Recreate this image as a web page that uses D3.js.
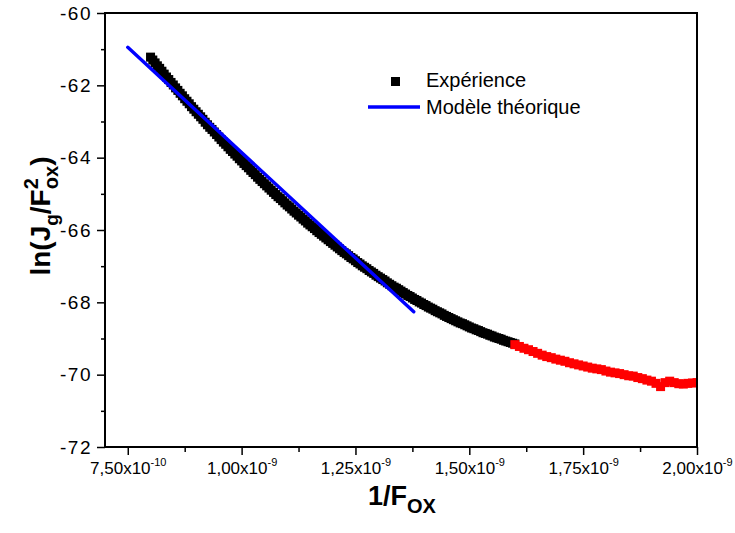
<!DOCTYPE html>
<html><head><meta charset="utf-8">
<script src="https://cdn.jsdelivr.net/npm/d3@7"></script>
<style>
body{margin:0;background:#fff}
svg{display:block}
text{font-family:"Liberation Sans",Arial,Helvetica,sans-serif;fill:#000}
</style>
</head><body>
<svg id="chart" width="735" height="533"></svg>
<script>
// ---------- data ----------
const xUnit = 1e-10;                      // x values below are in units of 1e-10
const xTicks = [7.5e-10, 1.0e-9, 1.25e-9, 1.5e-9, 1.75e-9, 2.0e-9];
const xTickMantissa = ["7,50", "1,00", "1,25", "1,50", "1,75", "2,00"];
const xTickExponent = ["-10", "-9", "-9", "-9", "-9", "-9"];
const xMinorTicks = [8.75e-10, 1.125e-9, 1.375e-9, 1.625e-9, 1.875e-9];
const yTicks = [-60, -62, -64, -66, -68, -70, -72];
const yMinorTicks = [-61, -63, -65, -67, -69, -71];

// experimental points (black part)
const expBlackX = [
  8.00,8.05,8.10,8.15,8.20,8.25,8.30,8.35,8.40,8.45,8.50,8.55,8.60,8.65,8.70,8.75,8.80,8.85,8.90,8.95,
  9.00,9.05,9.10,9.15,9.20,9.25,9.30,9.35,9.40,9.45,9.50,9.55,9.60,9.65,9.70,9.75,9.80,9.85,9.90,9.95,
  10.00,10.05,10.10,10.15,10.20,10.25,10.30,10.35,10.40,10.45,10.50,10.55,10.60,10.65,10.70,10.75,10.80,10.85,10.90,10.95,
  11.00,11.05,11.10,11.15,11.20,11.25,11.30,11.35,11.40,11.45,11.50,11.55,11.60,11.65,11.70,11.75,11.80,11.85,11.90,11.95,
  12.00,12.05,12.10,12.15,12.20,12.25,12.30,12.35,12.40,12.45,12.50,12.55,12.60,12.65,12.70,12.75,12.80,12.85,12.90,12.95,
  13.00,13.05,13.10,13.15,13.20,13.25,13.30,13.35,13.40,13.45,13.50,13.55,13.60,13.65,13.70,13.75,13.80,13.85,13.90,13.95,
  14.00,14.05,14.10,14.15,14.20,14.25,14.30,14.35,14.40,14.45,14.50,14.55,14.60,14.65,14.70,14.75,14.80,14.85,14.90,14.95,
  15.00,15.05,15.10,15.15,15.20,15.25,15.30,15.35,15.40,15.45,15.50,15.55,15.60,15.65,15.70,15.75,15.80,15.85,15.90,15.95,16.00];
const expBlackY = [
  -61.22,-61.30,-61.38,-61.46,-61.53,-61.61,-61.69,-61.77,-61.84,-61.92,-61.99,-62.07,-62.14,-62.22,-62.29,-62.37,-62.44,-62.51,-62.59,-62.66,
  -62.73,-62.80,-62.87,-62.94,-63.02,-63.09,-63.16,-63.22,-63.29,-63.36,-63.43,-63.50,-63.57,-63.63,-63.70,-63.77,-63.83,-63.90,-63.96,-64.03,
  -64.09,-64.16,-64.22,-64.28,-64.35,-64.41,-64.47,-64.54,-64.60,-64.66,-64.72,-64.78,-64.84,-64.90,-64.96,-65.02,-65.08,-65.13,-65.19,-65.25,
  -65.31,-65.36,-65.42,-65.48,-65.53,-65.59,-65.64,-65.70,-65.75,-65.81,-65.86,-65.91,-65.96,-66.02,-66.07,-66.12,-66.17,-66.22,-66.27,-66.32,
  -66.37,-66.42,-66.47,-66.52,-66.57,-66.62,-66.66,-66.71,-66.76,-66.80,-66.85,-66.90,-66.94,-66.99,-67.03,-67.07,-67.12,-67.16,-67.20,-67.25,
  -67.29,-67.33,-67.37,-67.41,-67.46,-67.50,-67.54,-67.58,-67.61,-67.65,-67.69,-67.73,-67.77,-67.81,-67.84,-67.88,-67.92,-67.95,-67.99,-68.02,
  -68.06,-68.09,-68.13,-68.16,-68.19,-68.23,-68.26,-68.29,-68.32,-68.36,-68.39,-68.42,-68.45,-68.48,-68.51,-68.54,-68.57,-68.59,-68.62,-68.65,
  -68.68,-68.71,-68.73,-68.76,-68.78,-68.81,-68.84,-68.86,-68.88,-68.91,-68.93,-68.96,-68.98,-69.00,-69.02,-69.05,-69.07,-69.09,-69.11,-69.13,-69.15];
// experimental points (red part)
const expRedX = [16.0,16.1,16.2,16.3,16.4,16.5,16.6,16.7,16.8,16.9,
  17.0,17.1,17.2,17.3,17.4,17.5,17.6,17.7,17.8,17.9,
  18.0,18.1,18.2,18.3,18.4,18.5,18.6,18.7,18.8,18.9,
  19.0,19.1,19.2,19.3,19.4,19.5,19.6,19.7,19.8,19.9,20.0];
const expRedY = [-69.17,-69.22,-69.27,-69.31,-69.36,-69.41,-69.46,-69.50,-69.53,-69.57,
  -69.60,-69.63,-69.67,-69.70,-69.73,-69.76,-69.79,-69.82,-69.84,-69.86,
  -69.90,-69.93,-69.95,-69.97,-70.00,-70.03,-70.04,-70.08,-70.11,-70.15,
  -70.18,-70.24,-70.33,-70.22,-70.18,-70.22,-70.25,-70.26,-70.24,-70.23,-70.22];
// theoretical model (straight line)
const modelX = [7.5, 13.78];
const modelY = [-60.95, -68.26];

const legendLabels = ["Expérience", "Modèle théorique"];

// ---------- layout ----------
const svg = d3.select("#chart");
const L = 105, R = 697, T = 13, B = 447;
const x = d3.scaleLinear().domain([7.0e-10, 2.0e-9]).range([L, R]);
const y = d3.scaleLinear().domain([-72, -60]).range([B, T]);

svg.append("defs").append("clipPath").attr("id", "clip")
  .append("rect").attr("x", L).attr("y", T).attr("width", R - L).attr("height", B - T);

// points
const plot = svg.append("g").attr("clip-path", "url(#clip)");
const sq = 9;
const blackPts = expBlackX.map((v, i) => [v * xUnit, expBlackY[i]]);
const redPts = expRedX.map((v, i) => [v * xUnit, expRedY[i]]);
plot.append("g").selectAll("rect").data(blackPts).join("rect")
  .attr("x", d => x(d[0]) - sq / 2).attr("y", d => y(d[1]) - sq / 2)
  .attr("width", sq).attr("height", sq).attr("fill", "#000");
plot.append("g").selectAll("rect").data(redPts).join("rect")
  .attr("x", d => x(d[0]) - sq / 2).attr("y", d => y(d[1]) - sq / 2)
  .attr("width", sq).attr("height", sq).attr("fill", "#ff0000");
const modelPts = modelX.map((v, i) => [v * xUnit, modelY[i]]);
plot.append("path").datum(modelPts)
  .attr("d", d3.line().x(d => x(d[0])).y(d => y(d[1])))
  .attr("fill", "none").attr("stroke", "#0000ff").attr("stroke-width", 3.4)
  .attr("stroke-linecap", "round");

// axes
const axisStyle = g => {
  g.select(".domain").remove();
  g.selectAll("line").attr("stroke", "#000").attr("stroke-width", 1.5);
};
svg.append("g").attr("transform", `translate(${L},0)`)
  .call(d3.axisLeft(y).tickValues(yMinorTicks).tickSize(4).tickFormat(""))
  .call(axisStyle);
const yAx = svg.append("g").attr("transform", `translate(${L},0)`)
  .call(d3.axisLeft(y).tickValues(yTicks).tickSize(8).tickPadding(5).tickFormat(d => String(d)))
  .call(axisStyle);
yAx.selectAll("text").attr("font-size", 19).attr("letter-spacing", 1.5).attr("fill", "#000");

svg.append("g").attr("transform", `translate(0,${B})`)
  .call(d3.axisBottom(x).tickValues(xMinorTicks).tickSize(5).tickFormat(""))
  .call(axisStyle);
const xAx = svg.append("g").attr("transform", `translate(0,${B})`)
  .call(d3.axisBottom(x).tickValues(xTicks).tickSize(8).tickFormat(""))
  .call(axisStyle);
xAx.selectAll(".tick").each(function (d, i) {
  const t = d3.select(this).append("text").attr("y", 27).attr("font-size", 17)
    .attr("text-anchor", "middle");
  t.append("tspan").text(xTickMantissa[i] + "x10");
  t.append("tspan").attr("dy", -8).attr("font-size", 11).text(xTickExponent[i]);
});

// frame
svg.append("rect").attr("x", L).attr("y", T).attr("width", R - L).attr("height", B - T)
  .attr("fill", "none").attr("stroke", "#000").attr("stroke-width", 2);

// axis titles
const xt = svg.append("text").attr("x", 402).attr("y", 505).attr("text-anchor", "middle")
  .attr("font-size", 27).attr("font-weight", "bold");
xt.append("tspan").text("1/F");
xt.append("tspan").attr("dy", 8).attr("font-size", 20).text("OX");

const yt = svg.append("text").attr("transform", "translate(50,216) rotate(-90)")
  .attr("text-anchor", "middle").attr("font-size", 28).attr("font-weight", "bold");
yt.append("tspan").text("ln(J");
yt.append("tspan").attr("dy", 8).attr("font-size", 19).text("g");
yt.append("tspan").attr("dy", -8).text("/F");
yt.append("tspan").attr("dy", -12).attr("font-size", 20).text("2");
yt.append("tspan").attr("dx", -11).attr("dy", 20).attr("font-size", 20).text("ox");
yt.append("tspan").attr("dy", -8).text(")");

// legend
const lg = svg.append("g");
lg.append("rect").attr("x", 391).attr("y", 77).attr("width", 9).attr("height", 9).attr("fill", "#000");
lg.append("text").attr("x", 426).attr("y", 87).attr("font-size", 20).text(legendLabels[0]);
lg.append("line").attr("x1", 368).attr("x2", 420).attr("y1", 107).attr("y2", 107)
  .attr("stroke", "#0000ff").attr("stroke-width", 3.4);
lg.append("text").attr("x", 426).attr("y", 114).attr("font-size", 20).text(legendLabels[1]);
</script>
</body></html>
